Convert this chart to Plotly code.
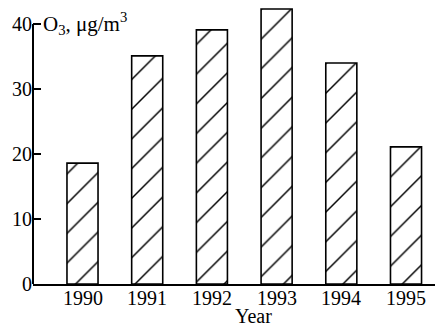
import plotly.graph_objects as go

# Annual mean ozone concentration
years = ["1990", "1991", "1992", "1993", "1994", "1995"]
ozone = [18.6, 35.1, 39.1, 42.3, 34.0, 21.1]
y_ticks = [0, 10, 20, 30, 40]

FONT = "Liberation Serif, Times New Roman, serif"
positions = list(range(len(years)))

fig = go.Figure(
    go.Bar(
        x=positions,
        y=ozone,
        width=0.48,
        marker=dict(
            color="white",
            line=dict(color="black", width=1.6),
            pattern=dict(shape="/", size=21, solidity=0.07,
                         fgcolor="black", fgopacity=1, bgcolor="white"),
        ),
    )
)

# year labels placed just under the baseline
year_labels = [
    dict(text=yr, xref="x", yref="y", x=pos, y=0, yshift=-1,
         xanchor="center", yanchor="top", showarrow=False,
         font=dict(size=20, family=FONT))
    for pos, yr in zip(positions, years)
]

fig.update_layout(
    width=435,
    height=327,
    margin=dict(l=33, r=0, t=0, b=43),
    paper_bgcolor="white",
    plot_bgcolor="white",
    showlegend=False,
    font=dict(family=FONT, color="black"),
    xaxis=dict(
        range=[-0.765, 5.448],
        tickvals=positions,
        showticklabels=False,
        ticks="",
        showline=True,
        linecolor="black",
        linewidth=2,
        showgrid=False,
        zeroline=False,
        fixedrange=True,
    ),
    yaxis=dict(
        range=[0, 43.69],
        tickmode="array",
        tickvals=y_ticks,
        ticktext=[str(v) for v in y_ticks],
        tickfont=dict(size=20, family=FONT),
        ticks="inside",
        ticklen=8,
        tickwidth=1.5,
        tickcolor="black",
        showline=False,
        showgrid=False,
        zeroline=False,
        fixedrange=True,
    ),
    shapes=[
        dict(type="line", xref="paper", yref="y", x0=0, x1=0, y0=0, y1=40,
             line=dict(color="black", width=2)),
    ],
    annotations=year_labels + [
        dict(text="O<sub>3</sub>, μg/m<sup>3</sup>", xref="paper", yref="y",
             x=0.02, y=40, xanchor="left", yanchor="middle", showarrow=False,
             font=dict(size=21, family=FONT)),
        dict(text="Year", xref="x", yref="y", x=2.5 + 9 / 64.7, y=0,
             yshift=-19, xanchor="center", yanchor="top", showarrow=False,
             font=dict(size=20, family=FONT)),
    ],
)

fig.write_html("out.html")
